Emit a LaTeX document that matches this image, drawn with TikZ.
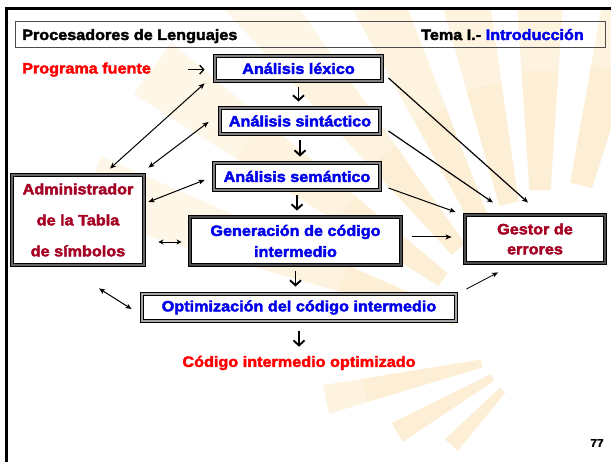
\documentclass[tikz,border=0pt]{standalone}
\usepackage{fontspec}
\setmainfont{Liberation Sans}[FakeStretch=1.08,BoldFeatures={FakeBold=2.5}]
\usetikzlibrary{arrows.meta,calc}
\definecolor{tblue}{RGB}{0,0,235}
\definecolor{tred}{RGB}{255,0,0}
\definecolor{dred}{RGB}{165,0,35}
\definecolor{sun}{RGB}{250,208,125}
\begin{document}
\begin{tikzpicture}[x=1pt,y=-1pt,
  every node/.style={font=\bfseries\fontsize{15}{18}\selectfont, inner sep=0pt},
  box/.style={draw=black, double=gray, double distance=2.6pt, line width=0.9pt, fill=white, text=tblue, align=center},
  darkbox/.style={box, double=black!70},
  down/.style={line width=1.9pt, -{Straight Barb[length=5pt,width=11pt]}},
  link/.style={line width=1pt, -{Stealth[length=6pt,width=5pt,inset=1.5pt]}},
  blink/.style={line width=1pt, {Stealth[length=6pt,width=5pt,inset=1.5pt]}-{Stealth[length=6pt,width=5pt,inset=1.5pt]}},
  ray/.style={fill=sun}]
\useasboundingbox (0,0) rectangle (611,462);
\fill[white] (0,0) rectangle (611,462);
% faint sunburst background
\begin{scope}
\clip (8,10) rectangle (611,462);
\coordinate (C) at (540,350);
\foreach \a/\ri/\r in {133/55/130,150/55/165,167/60/220,-160/90/480,-144/120/480,-129/130/480,-115/140/480,-102/150/480,-90/160/480,-76/170/480,-62/180/480} {
  \pgfmathsetmacro{\ra}{min(\r,\ri+120)}
  \pgfmathsetmacro{\rb}{min(\r,\ri+240)}
  \fill[ray, opacity=0.32] ($(C)+(\a-3.8:\ri)$) -- ($(C)+(\a-3.8:\ra)$) -- ($(C)+(\a+3.8:\ra)$) -- ($(C)+(\a+3.8:\ri)$) -- cycle;
  \fill[ray, opacity=0.25] ($(C)+(\a-3.8:\ra)$) -- ($(C)+(\a-3.8:\rb)$) -- ($(C)+(\a+3.8:\rb)$) -- ($(C)+(\a+3.8:\ra)$) -- cycle;
  \fill[ray, opacity=0.19] ($(C)+(\a-3.8:\rb)$) -- ($(C)+(\a-3.8:\r)$) -- ($(C)+(\a+3.8:\r)$) -- ($(C)+(\a+3.8:\rb)$) -- cycle;
}
\end{scope}
% slide frame
\draw[line width=3pt] (6.5,462) -- (6.5,9) -- (611,9);
% header
\node[draw=black!70, line width=0.6pt, minimum width=590pt, minimum height=26pt, anchor=north west] (hdr) at (15,21) {};
\node[anchor=base west] (title) at (22,40) {Procesadores de Lenguajes};
\node[anchor=base east] (tema) at (584,40) {Tema I.- \textcolor{tblue}{Introducción}};
% boxes
\node[box, minimum width=167pt, minimum height=25pt] (lex) at (298.5,68.5) {Análisis léxico};
\node[box, minimum width=160pt, minimum height=26pt] (sin) at (300,121) {Análisis sintáctico};
\node[box, minimum width=166pt, minimum height=27pt] (sem) at (297,176.5) {Análisis semántico};
\node[darkbox, minimum width=211pt, minimum height=48pt, font=\bfseries\fontsize{15}{21}\selectfont] (gen) at (295.5,241) {Generación de código\\intermedio};
\node[box, double=gray!70, minimum width=314pt, minimum height=27pt] (opt) at (299,307.5) {Optimización del código intermedio};
\node[box, double=gray!80!black, text=dred, minimum width=132pt, minimum height=90pt, font=\bfseries\fontsize{15}{31}\selectfont] (adm) at (78,220) {Administrador\\de la Tabla\\de símbolos};
\node[darkbox, text=dred, minimum width=140pt, minimum height=48pt, font=\bfseries\fontsize{15}{20}\selectfont] (ges) at (535,239) {Gestor de\\errores};
% free texts
\node[text=tred, anchor=base west] (prog) at (22,73.5) {Programa fuente};
\node[text=tred] (cod) at (299,363) {Código intermedio optimizado};
\node[font=\bfseries\fontsize{11}{13}\selectfont] (num) at (597,443) {77};
% main flow
\draw[line width=1.3pt, -{Straight Barb[length=4pt,width=9pt]}, shorten <=37pt, shorten >=10pt] (prog.east) -- (prog.east -| lex.west);
\draw[down, shorten <=6pt, shorten >=6pt] (lex.south) -- (lex.south |- sin.north);
\draw[down, shorten <=6pt, shorten >=6pt] (sin.south) -- (sin.south |- sem.north);
\draw[down, shorten <=5pt, shorten >=6pt] (sem.south) -- (sem.south |- gen.north);
\draw[down, shorten <=6pt, shorten >=7pt] (gen.south) -- (gen.south |- opt.north);
\draw[down, shorten <=10pt, shorten >=9pt] (opt.south) -- (opt.south |- cod.north);
% symbol table links
\draw[blink] ($(adm.north)+(32,-6)$) -- ($(lex.south west)+(-10,2)$);
\draw[blink] ($(adm.north east)+(4,-7)$) -- ($(sin.west)+(-11,1)$);
\draw[blink] ($(adm.east)+(4,-18)$) -- ($(sem.west)+(-9,3.5)$);
\draw[line width=0.9pt, {Stealth[length=5pt,width=5pt,inset=1.5pt]}-{Stealth[length=5pt,width=5pt,inset=1.5pt]}] ($(adm.east |- gen.west)+(14,1)$) -- ($(gen.west)+(-8,1)$);
\draw[blink] ($(adm.south)+(21,23)$) -- ($(opt.west)+(-10,1.5)$);
% error links
\draw[link, line width=1.2pt] ($(lex.east)+(6,9.5)$) -- ($(ges.north)+(-7,-12)$);
\draw[link, line width=1.2pt] ($(sin.east)+(8,10)$) -- ($(ges.north)+(-42,-12)$);
\draw[link] ($(sem.east)+(8,11.5)$) -- ($(ges.west)+(-9,-27)$);
\draw[link] ($(gen.east)+(11,-4)$) -- ($(ges.west)+(-13,-2)$);
\draw[link, line width=0.8pt] ($(opt.east)+(10,-18.5)$) -- ($(ges.south)+(-37,9)$);
\end{tikzpicture}
\end{document}
